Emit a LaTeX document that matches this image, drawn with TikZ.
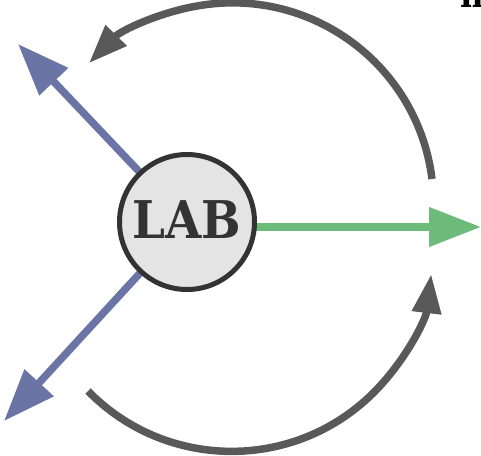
\documentclass[tikz,border=0pt]{standalone}
\usepackage{fontspec}
\IfFontExistsTF{DejaVu Serif Condensed}
  {\newfontfamily\labfont[BoldFont={* Bold}]{DejaVu Serif Condensed}}
  {\newfontfamily\labfont[FakeStretch=0.9]{DejaVu Serif}}
\usetikzlibrary{arrows.meta,backgrounds}
\definecolor{arcgray}{HTML}{595959}
\definecolor{bluearr}{HTML}{6A75A6}
\definecolor{greenarr}{HTML}{6CBB7B}
\definecolor{labfill}{HTML}{E4E4E4}
\definecolor{labdraw}{HTML}{333333}
\tikzset{
  labnode/.style={circle,draw=labdraw,fill=labfill,line width=5pt,minimum size=135pt,inner sep=0pt,
    text=labdraw,text depth=0pt,font=\labfont\bfseries\fontsize{52}{52}\selectfont},
  bigarrow/.style={line width=7.5pt,-{Triangle[length=52pt,width=38pt]}},
  arcarrow/.style={draw=arcgray,line width=7.5pt,-{Triangle[length=39pt,width=28pt]}},
}
\begin{document}
\begin{tikzpicture}[x=1pt,y=-1pt]
\useasboundingbox (0,0) rectangle (481,455);
\node[labnode] (lab) at (187,222) {\raisebox{4pt}{LAB}};
\coordinate (ul) at (18,44);
\coordinate (ll) at (4,421);
\coordinate (gt) at (481,227);
\begin{scope}[on background layer]
  \draw[bigarrow,draw=bluearr] (lab.center) -- (ul);
  \draw[bigarrow,draw=bluearr] (lab.center) -- (ll);
  \draw[bigarrow,draw=greenarr] (lab.center |- gt) -- (gt);
\end{scope}
\coordinate (ts) at (432,179);
\coordinate (bs) at (88,391);
\draw[arcarrow] (ts) arc[start angle=-7.1,end angle=-135.6,radius=201];
\draw[arcarrow] (bs) arc[start angle=135.6,end angle=6.8,radius=201];
\node[anchor=base west,inner sep=0pt,font=\labfont\bfseries\fontsize{36}{36}\selectfont,text=black] (nn) at (460,7) {n};
\end{tikzpicture}
\end{document}
